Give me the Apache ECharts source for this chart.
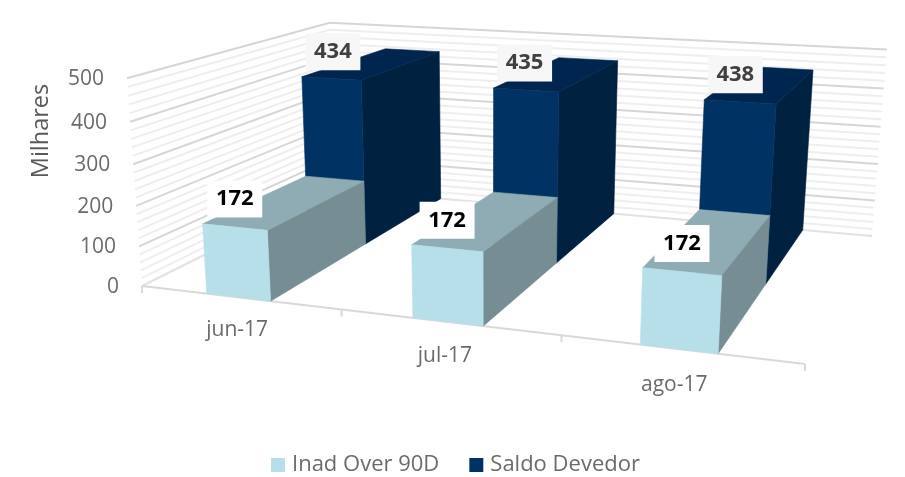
<!DOCTYPE html>
<html><head><meta charset="utf-8">
<style>html,body{margin:0;padding:0;background:#fff}#c{width:905px;height:477px}</style>
<script src="https://cdn.jsdelivr.net/npm/echarts@6/dist/echarts.min.js"></script>
</head><body><div id="c"></div>
<script>
// ---- data ----
var categories = ['jun-17', 'jul-17', 'ago-17'];
var inadValues = [172, 172, 172];
var saldoValues = [434, 435, 438];
var seriesNames = ['Inad Over 90D', 'Saldo Devedor'];
var wallTicks = [0,20,40,60,80,100,120,140,160,180,200,220,240,260,280,300,320,340,360,380,400,420,440,460,480,500];
var axisMax = 500;

// ---- perspective layout ----
var floorQuad = [[142,286],[805,364],[872,236],[335,189.5]]; // front-left, front-right, back-right, back-left
var horizonY = -203, heightK = 0.425, vpX = 490, vpY = 5086, verticalBow = 0.06, frontBow = 0.018;

function homography(q){
  var x0=q[0][0],y0=q[0][1],x1=q[1][0],y1=q[1][1],x2=q[2][0],y2=q[2][1],x3=q[3][0],y3=q[3][1];
  var dx1=x1-x2,dx2=x3-x2,sx=x0-x1+x2-x3,dy1=y1-y2,dy2=y3-y2,sy=y0-y1+y2-y3;
  var det=dx1*dy2-dx2*dy1;
  var g=(sx*dy2-dx2*sy)/det,h=(dx1*sy-sx*dy1)/det;
  var a=x1-x0+g*x1,b=x3-x0+h*x3,d=y1-y0+g*y1,e=y3-y0+h*y3;
  return function(u,v){var w=g*u+h*v+1;return [(a*u+b*v+x0)/w,(d*u+e*v+y0)/w];};
}
var floorH=homography(floorQuad);
function project(u,v,t){
  var f=floorH(u+frontBow*u*(1-u)*(1-v),v);
  var tt=t*(1-verticalBow*(1-t));
  var hp=heightK*(f[1]-horizonY)*tt;
  return [f[0]+(f[0]-vpX)/(vpY-f[1])*hp, f[1]-hp];
}
// scale helpers: everything passes through the chart's own axes
function toU(params,api,cat,off){
  var r=params.coordSys;
  return (api.coord([cat,0])[0]+off*api.size([1,0])[0]-r.x)/r.width;
}
function toT(params,api,val){
  var r=params.coordSys;
  return (r.y+r.height-api.coord([0,val])[1])/r.height;
}
function poly(pts,fill){
  return {type:'polygon',shape:{points:pts},style:{fill:fill,stroke:fill,lineWidth:0.6}};
}
function barRenderer(v0,v1,colors){
  return function(params,api){
    var c=api.value(0),val=api.value(1);
    var u0=toU(params,api,c,-0.165),u1=toU(params,api,c,0.155),t=toT(params,api,val);
    var A=project(u0,v0,0),B=project(u1,v0,0),C=project(u1,v1,0);
    var D=project(u0,v0,t),E=project(u1,v0,t),G=project(u1,v1,t),H=project(u0,v1,t);
    return {type:'group',children:[
      poly([B,C,G,E],colors.side),
      poly([D,E,G,H],colors.top),
      poly([A,B,E,D],colors.front)
    ]};
  };
}
function labelRenderer(v0,anchorOff,boxFill,textFill,dx,dy){
  return function(params,api){
    var c=api.value(0),val=api.value(1);
    var u0=toU(params,api,c,anchorOff),t=toT(params,api,val);
    var p=project(u0,v0,t);
    var x=p[0]+dx,y=p[1]+dy;
    return {type:'group',children:[
      {type:'rect',shape:{x:x-27.5,y:y-18.5,width:55,height:37},style:{fill:boxFill}},
      {type:'text',style:{text:String(val),x:x,y:y,align:'center',verticalAlign:'middle',
        fill:textFill,font:'bold 22px "Open Sans"'}}
    ]};
  };
}
function wallRenderer(params,api){
  var val=api.value(0),t=toT(params,api,val),major=val%100===0;
  var color=val===0?'#e2e2e2':(major?'#d6d6d6':'#eeeeee');
  var children=[{type:'polyline',shape:{points:[project(0,0,t),project(0,1,t),project(1,1,t)]},
    style:{fill:null,stroke:color,lineWidth:2}}];
  if(major){
    var p=project(0,0,t);
    children.push({type:'text',style:{text:String(val),x:p[0]-23,y:p[1]+1,align:'right',verticalAlign:'middle',
      fill:'#6b6b6b',font:'21px "Open Sans"'}});
  }
  return {type:'group',children:children};
}
function axisRenderer(params,api){
  var c=api.value(0);
  var children=[];
  var uL=toU(params,api,c,-0.5),uR=toU(params,api,c,0.5);
  var a=project(uL,0,0),b=project(uR,0,0);
  children.push({type:'line',shape:{x1:a[0],y1:a[1],x2:b[0],y2:b[1]},style:{stroke:'#d9d9d9',lineWidth:2}});
  children.push({type:'line',shape:{x1:a[0],y1:a[1],x2:a[0],y2:a[1]+7},style:{stroke:'#d9d9d9',lineWidth:2}});
  if(c===categories.length-1){
    children.push({type:'line',shape:{x1:b[0],y1:b[1],x2:b[0],y2:b[1]+7},style:{stroke:'#d9d9d9',lineWidth:2}});
  }
  var m=project(toU(params,api,c,-0.01),0,-0.165);
  children.push({type:'text',style:{text:categories[c],x:m[0]-2,y:m[1],align:'center',verticalAlign:'middle',
    fill:'#6b6b6b',font:'21px "Open Sans"'}});
  return {type:'group',children:children};
}
function pairs(vals){return vals.map(function(v,i){return [i,v];});}

var lightColors={front:'#b7dfe9',top:'#8fabb3',side:'#768d93'};
var darkColors={front:'#003264',top:'#00264f',side:'#00213f'};

var chart=echarts.init(document.getElementById('c'),null,{renderer:'canvas'});
chart.setOption({
  animation:false,
  backgroundColor:'#fff',
  grid:{left:128,top:79,width:677,height:208},
  xAxis:{type:'category',data:categories,show:false},
  yAxis:{type:'value',min:0,max:axisMax,interval:100,
    axisLine:{show:false},axisTick:{show:false},splitLine:{show:false},axisLabel:{show:false}},
  legend:{data:seriesNames,left:266,top:449,itemWidth:14,itemHeight:14,itemGap:30,icon:'rect',
    textStyle:{color:'#6b6b6b',fontSize:22,fontFamily:'Open Sans',padding:[0,0,0,2]}},
  graphic:[{type:'text',x:41,y:131,rotation:Math.PI/2,
    style:{text:'Milhares',align:'center',verticalAlign:'middle',fill:'#595959',font:'23.5px "Open Sans"'}}],
  series:[
    {name:seriesNames[0],type:'custom',coordinateSystem:'cartesian2d',z:4,clip:false,silent:true,
      itemStyle:{color:lightColors.front},encode:{x:0,y:1},data:pairs(inadValues),
      renderItem:barRenderer(0,0.5,lightColors)},
    {name:seriesNames[1],type:'custom',coordinateSystem:'cartesian2d',z:3,clip:false,silent:true,
      itemStyle:{color:darkColors.front},encode:{x:0,y:1},data:pairs(saldoValues),
      renderItem:barRenderer(0.5,1,darkColors)},
    {name:'walls',type:'custom',coordinateSystem:'cartesian2d',z:1,clip:false,silent:true,
      encode:{y:0},data:wallTicks.map(function(v){return [v];}),renderItem:wallRenderer},
    {name:'axis',type:'custom',coordinateSystem:'cartesian2d',z:2,clip:false,silent:true,
      encode:{x:0},data:categories.map(function(c,i){return [i];}),renderItem:axisRenderer},
    {name:'labelsSaldo',type:'custom',coordinateSystem:'cartesian2d',z:5,clip:false,silent:true,
      encode:{x:0,y:1},data:pairs(saldoValues),renderItem:labelRenderer(0.5,-0.165,'#f7f7f7','#404040',31,-25)},
    {name:'labelsInad',type:'custom',coordinateSystem:'cartesian2d',z:6,clip:false,silent:true,
      encode:{x:0,y:1},data:pairs(inadValues),renderItem:labelRenderer(0,-0.005,'#ffffff','#000000',0,-28)}
  ]
});
</script></body></html>
